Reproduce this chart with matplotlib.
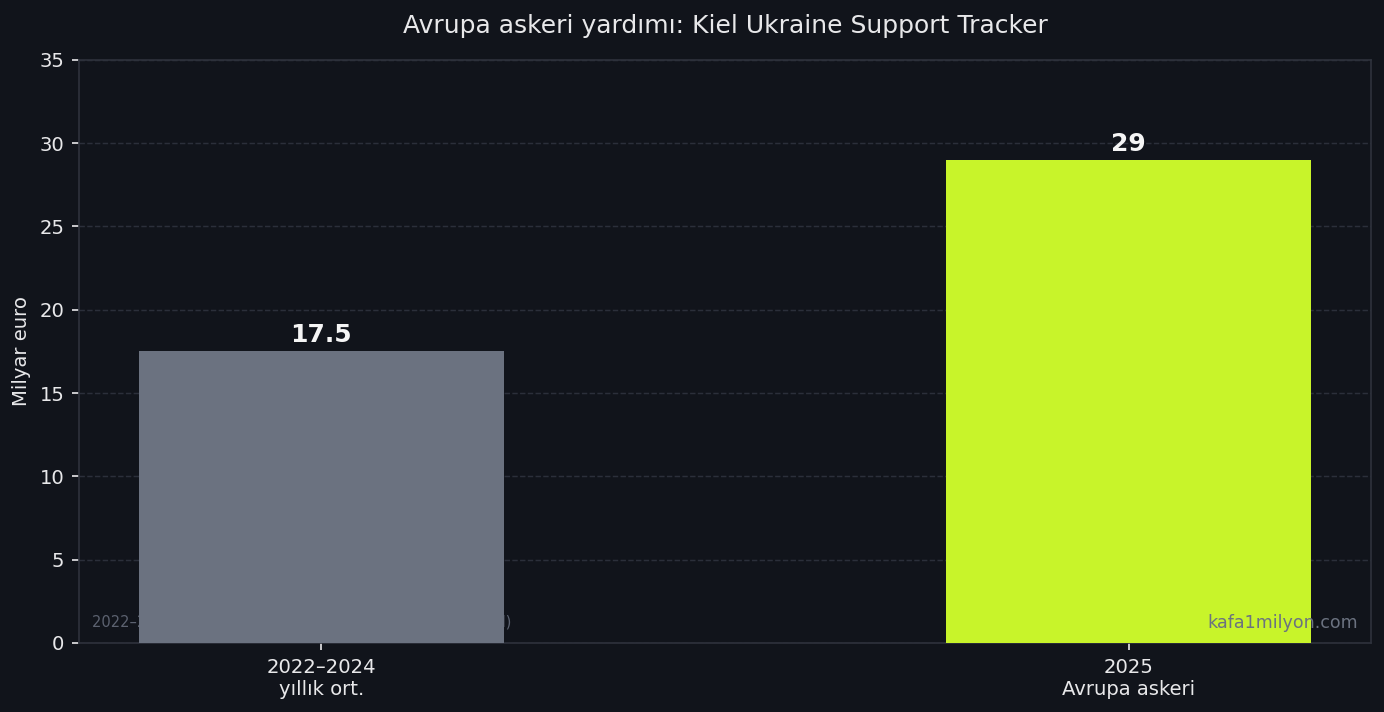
import matplotlib.pyplot as plt

# data
categories = ["2022–2024\nyıllık ort.", "2025\nAvrupa askeri"]
values = [17.5, 29]
value_labels = ["17.5", "29"]
bar_colors = ["#6b7280", "#c8f42a"]

BG = "#11141b"
TXT = "#e8e8ea"
GRID = "#2b2f3a"

fig, ax = plt.subplots(figsize=(1385 / 150, 712 / 150), dpi=150)
fig.patch.set_facecolor(BG)
ax.set_facecolor(BG)

x = range(len(categories))
bars = ax.bar(x, values, width=0.452, color=bar_colors, zorder=3)

for b, lbl in zip(bars, value_labels):
    ax.annotate(lbl, (b.get_x() + b.get_width() / 2, b.get_height()),
                xytext=(0, 2), textcoords="offset points",
                ha="center", va="bottom", color="#f5f5f5",
                fontsize=12, fontweight="bold", zorder=4)

ax.set_xlim(-0.3, 1.3)
ax.set_ylim(0, 35)
ax.set_xticks(list(x))
ax.set_xticklabels(categories)
ax.set_ylabel("Milyar euro", color=TXT, fontsize=9.4)
ax.set_title("Avrupa askeri yardımı: Kiel Ukraine Support Tracker",
             color=TXT, fontsize=12, pad=13)

ax.tick_params(colors=TXT, labelsize=9.4)
for s in ax.spines.values():
    s.set_color("#2e323c")
ax.yaxis.grid(True, linestyle="--", color=GRID, linewidth=0.7, zorder=0)
ax.set_axisbelow(True)

# note sits behind the grey bar
ax.text(0.01, 0.022, "2022–2024: üç yılın toplamının yıllık ortalaması (IfW Kiel)",
        transform=ax.transAxes, fontsize=7, color="#5c6270", ha="left",
        va="bottom", zorder=1)
ax.text(0.99, 0.018, "kafa1milyon.com", transform=ax.transAxes, fontsize=8.4,
        color="#6b7280", ha="right", va="bottom", zorder=5)

plt.subplots_adjust(left=0.057, right=0.99, top=0.916, bottom=0.097)
plt.savefig("out.png", facecolor=BG)
